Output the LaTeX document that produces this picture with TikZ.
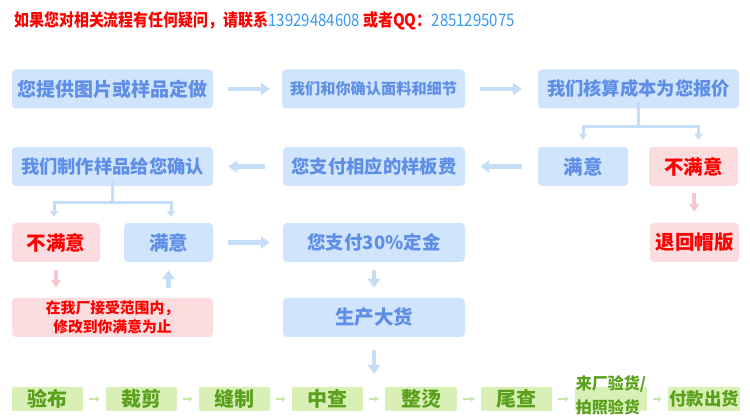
\documentclass[tikz,border=0pt]{standalone}
\usepackage{fontspec}
\setmainfont{Noto Sans CJK SC}
\usetikzlibrary{arrows.meta}
\definecolor{bfill}{HTML}{D0E5FB}
\definecolor{btext}{HTML}{5E8EE6}
\definecolor{barrow}{HTML}{C6DDF6}
\definecolor{pfill}{HTML}{FBDDE0}
\definecolor{rtext}{HTML}{FF0000}
\definecolor{parrow}{HTML}{F6C8D0}
\definecolor{gfill}{HTML}{D8F0B6}
\definecolor{gtext}{HTML}{5BA01C}
\definecolor{garrow}{HTML}{C8E6AC}
\definecolor{ntext}{HTML}{3A98F2}
\tikzset{
  box/.style={rounded corners=4pt, inner sep=0pt, minimum height=39pt, font=\bfseries},
  bluebox/.style={box, fill=bfill, text=btext},
  pinkbox/.style={box, fill=pfill, text=rtext},
  greenbox/.style={rounded corners=2pt, inner sep=0pt, minimum height=24pt, fill=gfill, text=gtext, font=\bfseries\fontsize{20}{22}\selectfont},
  bigarrow/.style={draw=barrow, line width=4.5pt, -{Triangle[width=12pt,length=9pt]}},
  pinkarrow/.style={draw=parrow, line width=4pt, -{Triangle[width=10pt,length=8pt]}},
  branchline/.style={draw=barrow, line width=3pt},
  brancharrow/.style={draw=barrow, line width=3pt, -{Triangle[width=8pt,length=6pt]}},
  garr/.style={draw=garrow, line width=2pt, -{Triangle[width=5pt,length=4pt]}},
}
\begin{document}
\begin{tikzpicture}[x=1pt,y=-1pt]
\useasboundingbox[fill=white] (0,0) rectangle (750,419);
% title
\node[anchor=west, inner sep=0pt] (title) at (14,21) {\scalebox{0.87}[1]{\fontsize{17.2}{20}\selectfont\bfseries\color{rtext}如果您对相关流程有任何疑问，请联系\mdseries\color{ntext}13929484608\ \bfseries\color{rtext}或者QQ：\mdseries\color{ntext}2851295075}};
% row 1
\node[bluebox, minimum width=201pt, font=\bfseries\fontsize{19}{22}\selectfont] (b1) at (112.5,89) {您提供图片或样品定做};
\node[bluebox, minimum width=183pt, font=\bfseries\fontsize{15.2}{18}\selectfont] (b2) at (373.5,89) {我们和你确认面料和细节};
\node[bluebox, minimum width=201pt, font=\bfseries\fontsize{18.3}{22}\selectfont] (b3) at (638.5,89) {我们核算成本为您报价};
% row 2
\node[bluebox, minimum width=201pt, font=\bfseries\fontsize{18.3}{22}\selectfont] (r2a) at (112.5,166.5) {我们制作样品给您确认};
\node[bluebox, minimum width=182pt, font=\bfseries\fontsize{18.3}{22}\selectfont] (r2b) at (374,166.5) {您支付相应的样板费};
\node[bluebox, minimum width=90pt, font=\bfseries\fontsize{19.5}{22}\selectfont] (r2c) at (583,166.5) {满意};
\node[pinkbox, minimum width=89pt, font=\bfseries\fontsize{19.5}{22}\selectfont] (r2d) at (693.5,166.5) {不满意};
% row 3
\node[pinkbox, minimum width=88pt, font=\bfseries\fontsize{19.5}{22}\selectfont] (r3a) at (56,242.5) {不满意};
\node[bluebox, minimum width=89pt, font=\bfseries\fontsize{19.5}{22}\selectfont] (r3b) at (168.5,242.5) {满意};
\node[bluebox, minimum width=182pt, font=\bfseries\fontsize{18.5}{22}\selectfont] (r3c) at (374,242.5) {您支付30\%定金};
\node[pinkbox, minimum width=89pt, font=\bfseries\fontsize{19.5}{22}\selectfont] (r3d) at (694.5,242.5) {退回帽版};
% row 4
\node[pinkbox, minimum width=201pt, align=center, font=\bfseries\fontsize{14.8}{19}\selectfont] (r4a) at (112.5,317.5) {在我厂接受范围内，\\修改到你满意为止};
\node[bluebox, minimum width=182pt, font=\bfseries\fontsize{19.5}{22}\selectfont] (r4b) at (374,317.5) {生产大货};
% green row
\node[greenbox, minimum width=71pt] (g1) at (47.5,399) {验布};
\node[greenbox, minimum width=71pt] (g2) at (141.5,399) {裁剪};
\node[greenbox, minimum width=71pt] (g3) at (234.5,399) {缝制};
\node[greenbox, minimum width=71pt] (g4) at (327.5,399) {中查};
\node[greenbox, minimum width=72pt] (g5) at (421,399) {整烫};
\node[greenbox, minimum width=71pt] (g6) at (516.5,399) {尾查};
\node[greenbox, minimum width=72pt] (g7) at (611,399) {};
\node[inner sep=0pt, align=left, text=gtext, font=\bfseries\fontsize{16}{24}\selectfont] (g7t) at (611,395) {来厂验货/\\拍照验货};
\node[greenbox, minimum width=72pt, font=\bfseries\fontsize{17.5}{22}\selectfont] (g8) at (704,399) {付款出货};
% arrows row 1
\draw[bigarrow, shorten <=15pt, shorten >=12pt] (b1) -- (b2);
\draw[bigarrow, shorten <=15pt, shorten >=16pt] (b2) -- (b3);
% branch from b3
\coordinate (j1) at (638.5,127);
\draw[branchline] ([yshift=7pt]b3.south) -- (j1);
\draw[brancharrow, shorten >=7pt] (j1) -| (r2c.north);
\draw[brancharrow, shorten >=7pt] (j1) -| ([xshift=5pt]r2d.north);
% arrows row 2
\draw[bigarrow, shorten <=16pt, shorten >=15pt] (r2c) -- (r2b);
\draw[bigarrow, shorten <=18pt, shorten >=15pt] (r2b) -- (r2a);
\draw[pinkarrow, shorten <=7pt, shorten >=11pt] ([xshift=0.5pt]r2d.south) -- (r3d.north);
% branch from r2a
\coordinate (j2) at (112.5,203);
\draw[branchline] ([yshift=6pt]r2a.south) -- (j2);
\draw[brancharrow, shorten >=6pt] (j2) -| ([xshift=-2pt]r3a.north);
\draw[brancharrow, shorten >=6pt] (j2) -| ([xshift=2.5pt]r3b.north);
% row 3 arrows
\draw[bigarrow, shorten <=15pt, shorten >=13pt] (r3b) -- (r3c);
\draw[pinkarrow, shorten <=8pt, shorten >=10pt] (r3a.south) -- (r3a.south |- r4a.north);
\draw[bigarrow, draw=barrow, shorten <=10pt, shorten >=8pt] (r3b.south |- r4a.north) -- (r3b.south);
\draw[bigarrow, shorten <=8pt, shorten >=10pt] (r3c.south) -- (r4b.north);
% down to green row
\coordinate (gtop) at (374,374);
\draw[bigarrow, shorten <=13pt] (r4b.south) -- (gtop);
% green arrows
\draw[garr, shorten <=6pt, shorten >=6pt] (g1) -- (g2);
\draw[garr, shorten <=6pt, shorten >=6pt] (g2) -- (g3);
\draw[garr, shorten <=6pt, shorten >=6pt] (g3) -- (g4);
\draw[garr, shorten <=6pt, shorten >=6pt] (g4) -- (g5);
\draw[garr, shorten <=6pt, shorten >=6pt] (g5) -- (g6);
\draw[garr, shorten <=6pt, shorten >=6pt] (g6) -- (g7);
\draw[garr, shorten <=6pt, shorten >=6pt] (g7) -- (g8);
\end{tikzpicture}
\end{document}
